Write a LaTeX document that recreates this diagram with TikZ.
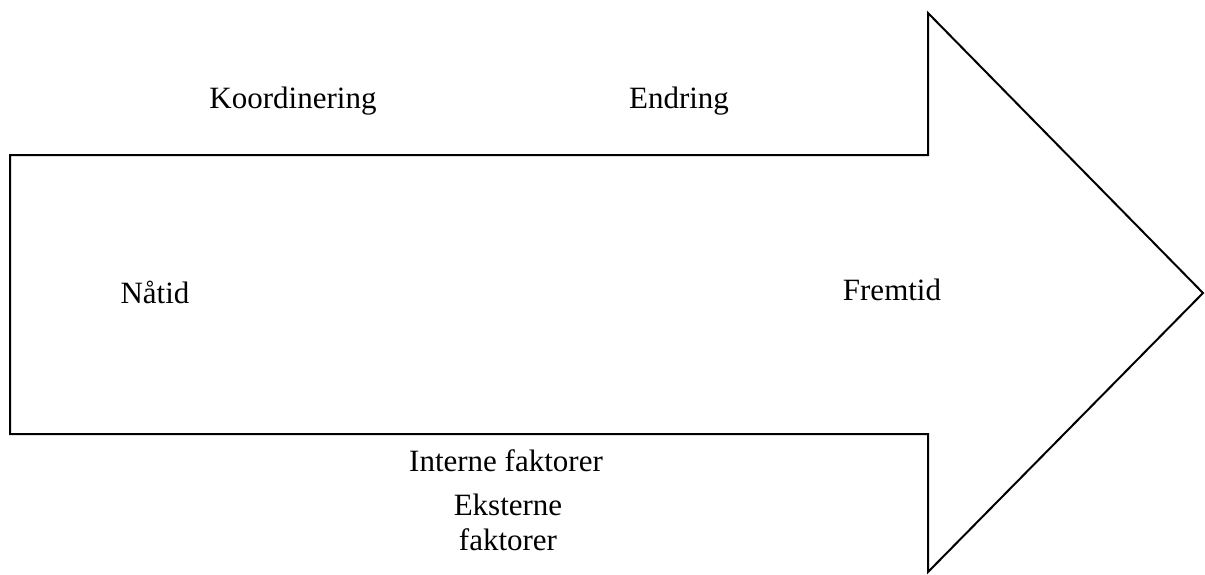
\documentclass[tikz,border=0pt]{standalone}
\usepackage{fontspec}
\setmainfont{Liberation Serif}
\begin{document}
\begin{tikzpicture}[x=1pt,y=-1pt,
  lbl/.style={anchor=base,inner sep=0pt,font=\fontsize{31}{35}\selectfont},
  arrowshape/.style={draw=black,line width=2pt,line join=miter}]
\useasboundingbox (0,0) rectangle (1205,574);
\coordinate (a1) at (10,155);
\coordinate (a2) at (928,155);
\coordinate (a3) at (928,13);
\coordinate (a4) at (1203,293);
\coordinate (a5) at (928,572);
\coordinate (a6) at (928,434);
\coordinate (a7) at (10,434);
\draw[arrowshape] (a1) -- (a2) -- (a3) -- (a4) -- (a5) -- (a6) -- (a7) -- cycle;
\node[lbl] (koord) at (293,108) {Koordinering};
\node[lbl] (endr) at (679,108) {Endring};
\node[lbl] (natid) at (155,303) {Nåtid};
\node[lbl] (fremtid) at (892,300) {Fremtid};
\node[lbl] (intern) at (506,471) {Interne faktorer};
\node[lbl] (ekst) at (508,515) {Eksterne};
\node[lbl] (fakt) at (508,550) {faktorer};
\end{tikzpicture}
\end{document}
